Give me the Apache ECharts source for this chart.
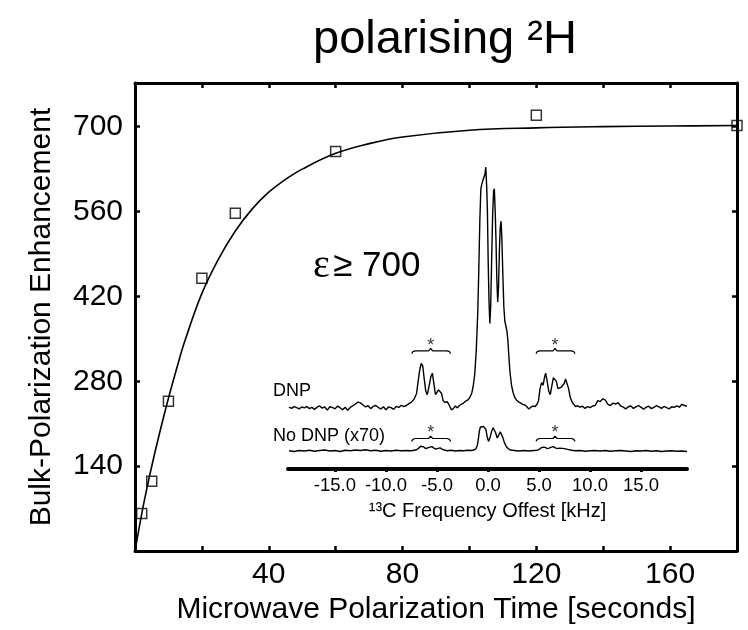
<!DOCTYPE html>
<html><head><meta charset="utf-8">
<script src="https://cdn.jsdelivr.net/npm/echarts@6/dist/echarts.min.js"></script>
<style>html,body{margin:0;padding:0;background:#fff}#c{width:748px;height:630px}</style>
</head><body><div id="c"></div>
<script>
// ---- main plot data ----
const timePoints = [2, 5, 10, 20, 30, 60, 120, 180];
const enhancementPoints = [62, 115, 247, 450, 557, 659, 719, 702];
const fitTime = [0, 1, 2, 3, 5, 7.5, 10, 12.5, 15, 20, 25, 30, 35, 40, 45, 50, 60, 70, 80, 100, 120, 140, 160, 180];
const fitEnhancement = [0, 31, 61, 89, 140, 198, 252, 302, 348, 425, 482, 528, 564, 592, 613, 630, 656, 672, 683, 694, 698, 700, 701, 702];
const xLabelValues = [40, 80, 120, 160];
const yLabelValues = [140, 280, 420, 560, 700];

// ---- inset spectra (intensity relative to own baseline) ----
const dnpFreq = [-19.5,-19.25,-19,-18.75,-18.5,-18.25,-18,-17.75,-17.5,-17.25,-17,-16.75,-16.5,-16.25,-16,-15.75,-15.5,-15.25,-15,-14.75,-14.5,-14.25,-14,-13.75,-13.5,-13.25,-13,-12.75,-12.5,-12.25,-12,-11.75,-11.5,-11.25,-11,-10.75,-10.5,-10.25,-10,-9.75,-9.5,-9.25,-9,-8.75,-8.5,-8.25,-8,-7.75,-7.5,-7.25,-7,-6.85,-6.7,-6.55,-6.4,-6.25,-6.1,-5.95,-5.8,-5.6,-5.45,-5.3,-5.15,-5,-4.85,-4.7,-4.55,-4.4,-4.2,-4,-3.8,-3.6,-3.4,-3.2,-3,-2.8,-2.6,-2.4,-2.2,-2,-1.8,-1.6,-1.45,-1.3,-1.15,-1,-0.9,-0.8,-0.7,-0.6,-0.5,-0.4,-0.3,-0.22,-0.14,-0.06,0.02,0.1,0.18,0.26,0.35,0.45,0.55,0.62,0.7,0.78,0.86,0.95,1.03,1.12,1.2,1.28,1.36,1.45,1.55,1.65,1.75,1.85,1.95,2.05,2.15,2.3,2.45,2.6,2.8,3,3.2,3.4,3.6,3.8,4,4.2,4.4,4.6,4.8,4.95,5.1,5.25,5.4,5.55,5.65,5.8,5.95,6.1,6.25,6.4,6.55,6.7,6.85,7,7.15,7.3,7.45,7.6,7.75,7.9,8.05,8.2,8.4,8.6,8.8,9,9.25,9.5,9.75,10,10.25,10.5,10.75,11,11.25,11.5,11.75,12,12.25,12.5,12.75,13,13.25,13.5,13.75,14,14.25,14.5,14.75,15,15.25,15.5,15.75,16,16.25,16.5,16.75,17,17.25,17.5,17.75,18,18.25,18.5,18.75,19,19.25,19.5];
const dnpIntensity = [0.3,-0.2,0.5,0.1,-0.4,0.4,0,0.6,-0.3,0.2,-0.6,0.3,0.8,-0.1,0.4,-0.9,0.5,0.2,-0.4,0.7,0.1,-0.8,0.3,-1,0.2,0.9,1.6,2.4,2.1,1.2,0.4,0.9,-0.3,0.6,1,0.2,-0.5,0.5,-0.8,0.4,0.1,-0.6,0.6,0.2,1.1,0.5,1,1.8,2.4,3.6,6,11,15.5,18.5,17.5,12,7,5.5,8.5,13,14.4,10,5.5,5.4,7.5,8.3,6,3,2.2,2.6,1.2,-0.8,-0.3,0.8,0,1,1.6,2,2.8,3.2,4.2,6,9,14,24,40,58,78,91,93,94.5,95,97,100,93,82,60,44,35,42,60,80,90,91,82,70,54,44,50,66,75,77.5,70,56,42,36,34,32,28,21,15,9.5,6.5,4.5,3.2,2.5,2,1.5,1.2,0.6,-0.5,0.3,0.8,0.5,1.5,3,8,10.5,9.5,13,14.4,11,7,5.5,9,12.5,13.3,11,8,7.5,8.5,8.3,10,12,11.5,8,4.5,2.8,1.5,0.5,0.9,0.3,0.7,-0.2,0.5,0.1,0.8,1,3,2.6,3.8,3.2,1.5,1,2,1.6,2.2,0.8,0.3,-0.4,0.5,0.8,-0.2,0.4,1,0.2,-0.5,0.3,0.7,-0.3,0.2,0.9,0.4,-0.2,0.6,0.1,-0.4,0.5,0.2,0.8,0.3,1.5,1,0.6];
const noDnpFreq = [-19.5,-19,-18.5,-18,-17.5,-17,-16.5,-16,-15.5,-15,-14.5,-14,-13.5,-13,-12.5,-12,-11.5,-11,-10.5,-10,-9.5,-9,-8.5,-8,-7.5,-7,-6.8,-6.6,-6.45,-6.3,-6.1,-5.9,-5.7,-5.5,-5.3,-5.1,-4.9,-4.7,-4.5,-4.3,-4,-3.6,-3.2,-2.8,-2.4,-2,-1.7,-1.4,-1.2,-1.05,-0.95,-0.85,-0.75,-0.6,-0.45,-0.3,-0.2,-0.1,0.05,0.2,0.35,0.5,0.62,0.75,0.9,1.05,1.2,1.3,1.45,1.6,1.8,2,2.2,2.6,3,3.5,4,4.5,4.8,5,5.2,5.4,5.6,5.8,6,6.2,6.4,6.6,6.8,7,7.3,7.6,7.9,8.2,8.6,9,9.5,10,10.5,11,11.5,12,12.5,13,13.5,14,14.5,15,15.5,16,16.5,17,17.5,18,18.5,19,19.5];
const noDnpIntensity = [0.1,-0.2,0.2,0,0.3,-0.1,0.2,0.4,0,0.2,-0.2,0.3,0.1,0.4,0.2,0.5,0.1,0.3,-0.1,0.2,0,0.3,0.1,0.2,0.1,0.5,1.2,2,2.3,1.7,1,1.3,1.6,1.8,1.2,0.8,1.1,1.3,0.8,0.4,0.1,0.3,0,0.2,0.1,0.3,0.2,0.4,0.9,2.2,4.8,8.2,10,10.5,10.2,10.4,9,6.2,4,5.6,8.1,9.7,9.5,7.6,5.4,6.6,8,7.8,5.6,3.6,1.8,0.9,0.4,0.2,0,0.2,0,0.2,0.3,0.6,1.3,1.6,1.5,1,1.2,1.6,1.8,1.3,1,1.2,1.1,0.9,0.6,0.3,0.1,0.2,-0.1,0.1,0.2,0,0.2,-0.1,0.1,0.2,0,-0.2,0.1,0,0.2,-0.1,0.1,-0.2,0,0.1,-0.1,0,-0.2];
const specLabelValues = [-15, -10, -5, 0, 5, 10, 15];
// sideband brackets: [start, middle, end] in kHz
const braceSpans = [[-7.48, -5.62, -3.66], [4.7, 6.57, 8.53]];
const dnpBraceLevel = 23.7, dnpStarLevel = 25.6;
const noDnpBraceLevel = 5.2, noDnpStarLevel = 7.4;

function zip(a, b) { return a.map((v, i) => [v, b[i]]); }
function brace(s, h, dip) {
  const [a, m, b] = s;
  return [[a, h - dip], [a + 0.12, h - dip * 0.3], [a + 0.35, h], [m - 0.2, h], [m, h + dip * 0.8], [m + 0.2, h], [b - 0.35, h], [b - 0.12, h - dip * 0.3], [b, h - dip]];
}

const FONT = '"Liberation Sans", Arial, Helvetica, sans-serif';
const black = '#000';
const chart = echarts.init(document.getElementById('c'), null, { renderer: 'canvas' });

const braceSeries = [];
braceSpans.forEach(s => {
  braceSeries.push({ type: 'line', xAxisIndex: 2, yAxisIndex: 2, data: brace(s, dnpBraceLevel, 1.2), showSymbol: false, symbol: 'none', lineStyle: { color: black, width: 1.2 }, silent: true, z: 5 });
  braceSeries.push({ type: 'line', xAxisIndex: 3, yAxisIndex: 3, data: brace(s, noDnpBraceLevel, 1.2), showSymbol: false, symbol: 'none', lineStyle: { color: black, width: 1.2 }, silent: true, z: 5 });
});
const starSeries = [
  { type: 'scatter', xAxisIndex: 2, yAxisIndex: 2, symbolSize: 0, data: braceSpans.map(s => [s[1], dnpStarLevel]),
    label: { show: true, position: 'inside', formatter: '*', fontSize: 18, fontFamily: FONT, color: black } },
  { type: 'scatter', xAxisIndex: 3, yAxisIndex: 3, symbolSize: 0, data: braceSpans.map(s => [s[1], noDnpStarLevel]),
    label: { show: true, position: 'inside', formatter: '*', fontSize: 18, fontFamily: FONT, color: black } }
];

const axisLineStyle = { show: true, onZero: false, lineStyle: { color: black, width: 3 } };
const option = {
  backgroundColor: '#fff',
  animation: false,
  textStyle: { fontFamily: FONT, color: black },
  grid: [
    { left: 135, right: 11, top: 83, bottom: 74 },
    { left: 288, right: 61, top: 167, bottom: 198 },
    { left: 288, right: 61, top: 403, bottom: 161 }
  ],
  xAxis: [
    { gridIndex: 0, type: 'value', min: 0, max: 180, interval: 20, position: 'bottom',
      axisLine: axisLineStyle, splitLine: { show: false },
      axisTick: { inside: true, length: 5, lineStyle: { width: 2.5, color: black } },
      axisLabel: { fontSize: 30, color: black, fontFamily: FONT, margin: 9,
        formatter: v => xLabelValues.indexOf(v) >= 0 ? String(v) : '' },
      name: 'Microwave Polarization Time [seconds]', nameLocation: 'middle', nameGap: 40,
      nameTextStyle: { fontSize: 30, color: black, fontFamily: FONT } },
    { gridIndex: 0, type: 'value', min: 0, max: 180, interval: 20, position: 'top',
      axisLine: axisLineStyle, splitLine: { show: false },
      axisTick: { inside: true, length: 5, lineStyle: { width: 2.5, color: black } },
      axisLabel: { show: false } },
    { gridIndex: 1, type: 'value', min: -19.6, max: 19.5, show: false },
    { gridIndex: 2, type: 'value', min: -19.6, max: 19.5, position: 'bottom',
      axisLine: { show: true, onZero: false, lineStyle: { color: black, width: 4 } },
      splitLine: { show: false },
      axisTick: { show: true, customValues: specLabelValues, length: 3, lineStyle: { width: 3, color: black } },
      axisLabel: { customValues: specLabelValues, fontSize: 18.5, color: black, fontFamily: FONT, margin: 7,
        formatter: v => v.toFixed(1) },
      name: '¹³C Frequency Offest [kHz]', nameLocation: 'middle', nameGap: 32,
      nameTextStyle: { fontSize: 20, color: black, fontFamily: FONT } }
  ],
  yAxis: [
    { gridIndex: 0, type: 'value', min: 0, max: 772, interval: 140, position: 'left',
      axisLine: axisLineStyle, splitLine: { show: false },
      axisTick: { inside: true, length: 5, lineStyle: { width: 2.5, color: black } },
      axisLabel: { fontSize: 30, color: black, fontFamily: FONT, margin: 12,
        formatter: v => yLabelValues.indexOf(v) >= 0 ? String(v) : '' },
      name: 'Bulk-Polarization Enhancement', nameLocation: 'middle', nameGap: 78,
      nameTextStyle: { fontSize: 30, color: black, fontFamily: FONT } },
    { gridIndex: 0, type: 'value', min: 0, max: 772, interval: 140, position: 'right',
      axisLine: axisLineStyle, splitLine: { show: false },
      axisTick: { inside: true, length: 5, lineStyle: { width: 2.5, color: black } },
      axisLabel: { show: false } },
    { gridIndex: 1, type: 'value', min: -10, max: 100, show: false },
    { gridIndex: 2, type: 'value', min: -7.5, max: 20, show: false }
  ],
  graphic: [
    { type: 'text', x: 445, y: 17, style: { text: 'polarising ²H', font: '47px ' + FONT, fill: black, align: 'center', verticalAlign: 'top' } },
    { type: 'text', x: 313, y: 246, style: { text: '{e|ε} {t|≥ 700}', fill: black,
        rich: { e: { fontFamily: '"Liberation Serif", "Times New Roman", serif', fontSize: 40, fill: black },
                t: { fontFamily: FONT, fontSize: 35, fill: black } } } },
    { type: 'text', x: 273, y: 382, style: { text: 'DNP', font: '18px ' + FONT, fill: black } },
    { type: 'text', x: 273, y: 427, style: { text: 'No DNP (x70)', font: '18px ' + FONT, fill: black } }
  ],
  series: [
    { type: 'line', xAxisIndex: 0, yAxisIndex: 0, data: zip(fitTime, fitEnhancement), smooth: 0.4,
      showSymbol: false, symbol: 'none', lineStyle: { color: black, width: 1.6 }, z: 2 },
    { type: 'scatter', xAxisIndex: 0, yAxisIndex: 0, data: zip(timePoints, enhancementPoints), symbol: 'rect',
      symbolSize: 10, itemStyle: { color: 'rgba(255,255,255,0)', borderColor: black, borderWidth: 1.5 }, z: 3 },
    { type: 'line', xAxisIndex: 2, yAxisIndex: 2, data: zip(dnpFreq, dnpIntensity), showSymbol: false, symbol: 'none',
      lineStyle: { color: black, width: 1.4 }, z: 4 },
    { type: 'line', xAxisIndex: 3, yAxisIndex: 3, data: zip(noDnpFreq, noDnpIntensity), showSymbol: false, symbol: 'none',
      lineStyle: { color: black, width: 1.4 }, z: 4 },
    ...braceSeries,
    ...starSeries
  ]
};
chart.setOption(option);
</script></body></html>
